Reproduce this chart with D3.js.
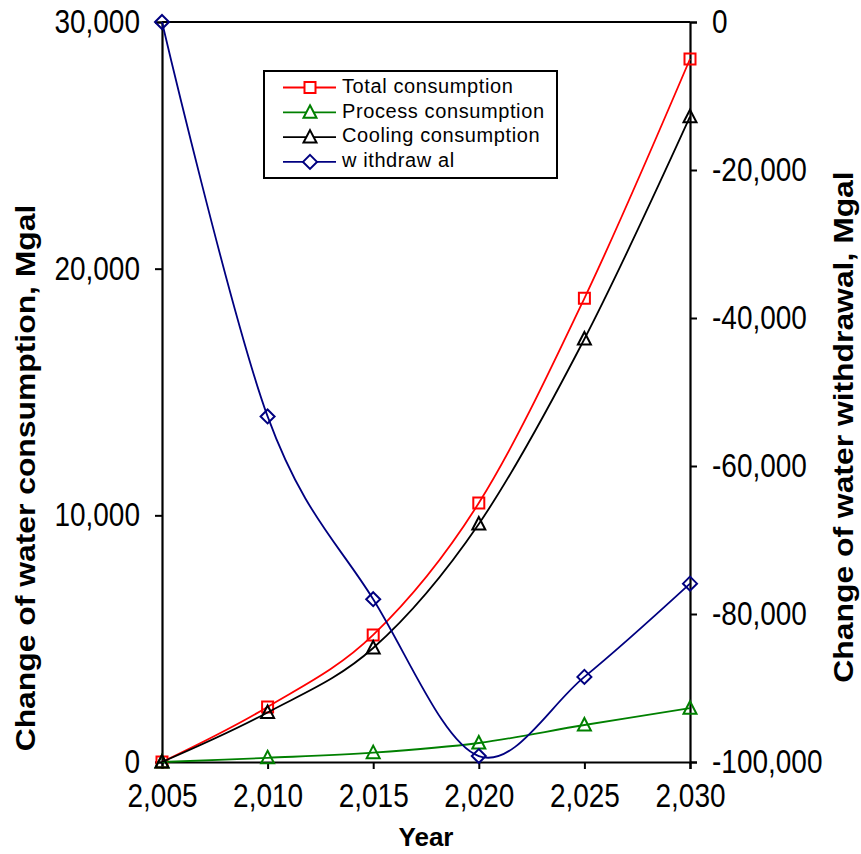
<!DOCTYPE html>
<html><head><meta charset="utf-8">
<script src="https://cdn.jsdelivr.net/npm/d3@7"></script>
<style>
body{margin:0;background:#fff}
text{font-family:"Liberation Sans",Arial,Helvetica,sans-serif;fill:#000}
</style>
</head><body><svg id="chart" width="861" height="854"></svg>
<script>
// Water consumption and withdrawal changes, 2005-2030
const years = [2005, 2010, 2015, 2020, 2025, 2030];
const totalConsumption   = [0, 2230, 5150, 10500, 18800, 28500];
const processConsumption = [0, 170, 380, 770, 1500, 2180];
const coolingConsumption = [0, 2010, 4620, 9650, 17150, 26160];
const withdrawal         = [0, -53300, -78000, -99200, -88500, -75900];

const xTicks = [2005, 2010, 2015, 2020, 2025, 2030];
const leftTicks = [0, 10000, 20000, 30000];
const rightTicks = [0, -20000, -40000, -60000, -80000, -100000];

const seriesNames = ["Total consumption", "Process consumption", "Cooling consumption", "w ithdraw al"];

const svg = d3.select("#chart");
const plot = {left: 162, right: 690, top: 22, bottom: 762};

const x = d3.scaleLinear().domain([2005, 2030]).range([plot.left, plot.right]);
const yL = d3.scaleLinear().domain([0, 30000]).range([plot.bottom, plot.top]);
const yR = d3.scaleLinear().domain([-100000, 0]).range([plot.bottom, plot.top]);

const fmt = d3.formatLocale({decimal: ".", thousands: ",", grouping: [3], currency: ["", ""], minus: "-"}).format(",");

const fontSize = 28;
const stretch = 1.18; // glyphs in this chart are drawn taller than wide

// top frame line
svg.append("line")
  .attr("x1", plot.left).attr("x2", plot.right)
  .attr("y1", plot.top).attr("y2", plot.top)
  .attr("stroke", "#000").attr("stroke-width", 2);

function styleAxis(g) {
  g.select(".domain").attr("stroke", "#000").attr("stroke-width", 2.2);
  g.selectAll(".tick line").attr("stroke", "#000").attr("stroke-width", 2);
  g.selectAll(".tick text").each(function () {
    const t = d3.select(this);
    const tx = +t.attr("x") || 0, ty = +t.attr("y") || 0;
    t.attr("x", 0).attr("y", 0)
      .attr("transform", `translate(${tx},${ty}) scale(1,${stretch})`)
      .style("font-size", fontSize + "px").attr("fill", "#000");
  });
}

svg.append("g")
  .attr("transform", `translate(0,${plot.bottom})`)
  .call(d3.axisBottom(x).tickValues(xTicks).tickFormat(fmt).tickSizeOuter(0).tickSize(7).tickPadding(15))
  .call(styleAxis);

svg.append("g")
  .attr("transform", `translate(${plot.left},0)`)
  .call(d3.axisLeft(yL).tickValues(leftTicks).tickFormat(fmt).tickSizeOuter(0).tickSize(7).tickPadding(15))
  .call(styleAxis);

svg.append("g")
  .attr("transform", `translate(${plot.right},0)`)
  .call(d3.axisRight(yR).tickValues(rightTicks).tickFormat(fmt).tickSizeOuter(0).tickSize(7).tickPadding(15))
  .call(styleAxis);

// axis titles
svg.append("text")
  .attr("x", x(2017.5)).attr("y", 846)
  .attr("text-anchor", "middle")
  .style("font-size", "26px").style("font-weight", "bold")
  .text("Year");

svg.append("text")
  .attr("transform", `translate(28,478) rotate(-90) scale(${stretch},1)`)
  .attr("text-anchor", "middle").attr("dominant-baseline", "middle")
  .style("font-size", "27px").style("font-weight", "bold")
  .text("Change of water consumption, Mgal");

svg.append("text")
  .attr("transform", `translate(846,427) rotate(-90) scale(${stretch},1)`)
  .attr("text-anchor", "middle").attr("dominant-baseline", "middle")
  .style("font-size", "27px").style("font-weight", "bold")
  .text("Change of water withdrawal, Mgal");

// series
const curve = d3.curveCardinal.tension(0);
const series = [
  {name: seriesNames[0], values: totalConsumption, y: yL, color: "#ff0000", marker: "square"},
  {name: seriesNames[1], values: processConsumption, y: yL, color: "#008000", marker: "triangle"},
  {name: seriesNames[2], values: coolingConsumption, y: yL, color: "#000000", marker: "triangle"},
  {name: seriesNames[3], values: withdrawal, y: yR, color: "#000080", marker: "diamond"}
];

function markerPath(type) {
  if (type === "square") return "M-5.5,-5.5H5.5V5.5H-5.5Z";
  if (type === "triangle") return "M0,-7L6.5,5.5H-6.5Z";
  return "M0,-7L7,0L0,7L-7,0Z";
}

series.forEach(s => {
  const pts = years.map((yr, i) => [x(yr), s.y(s.values[i])]);
  svg.append("path")
    .attr("d", d3.line().curve(curve)(pts))
    .attr("fill", "none").attr("stroke", s.color).attr("stroke-width", 1.8);
  svg.append("g").selectAll("path")
    .data(pts).join("path")
    .attr("transform", d => `translate(${d[0]},${d[1]})`)
    .attr("d", markerPath(s.marker))
    .attr("fill", "none").attr("stroke", s.color).attr("stroke-width", 2);
});

// legend
const lg = svg.append("g");
lg.append("rect")
  .attr("x", 264).attr("y", 71).attr("width", 293).attr("height", 107)
  .attr("fill", "#fff").attr("stroke", "#000").attr("stroke-width", 2);
series.forEach((s, i) => {
  const yy = 87.5 + i * 24.8;
  lg.append("line").attr("x1", 283).attr("x2", 336).attr("y1", yy).attr("y2", yy)
    .attr("stroke", s.color).attr("stroke-width", 1.8);
  lg.append("path").attr("transform", `translate(310,${yy})`)
    .attr("d", markerPath(s.marker)).attr("fill", "#fff")
    .attr("stroke", s.color).attr("stroke-width", 2);
  lg.append("text").attr("x", 342).attr("y", yy)
    .attr("dominant-baseline", "middle")
    .style("font-size", "20px").style("letter-spacing", "0.6px")
    .text(s.name);
});
</script>
</body></html>
